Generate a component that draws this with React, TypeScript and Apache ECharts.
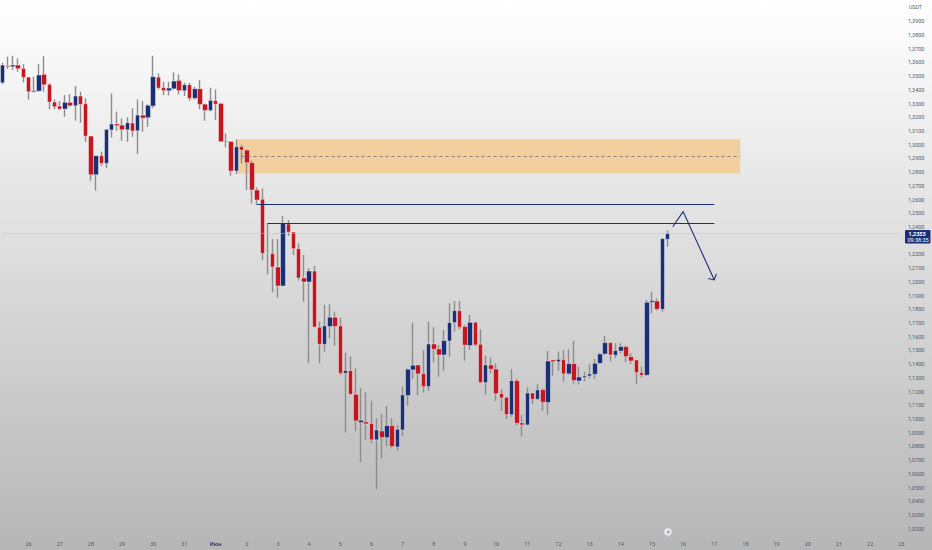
import React, { useEffect, useRef } from "react";
import * as echarts from "echarts";

// each row: open, close, low, high
const may26to27 = [
  [1.3452,1.3581,1.3442,1.3598],[1.3576,1.3569,1.3552,1.3642],[1.3569,1.3581,1.3544,1.3649],[1.3581,1.3554,1.3532,1.3629],
  [1.3556,1.3491,1.3454,1.3588],[1.3493,1.3386,1.3330,1.3493],[1.3386,1.3394,1.3381,1.3496],[1.3391,1.3508,1.3386,1.3588],
  [1.3513,1.3437,1.3386,1.3646],[1.3440,1.3311,1.3258,1.3447],[1.3311,1.3277,1.3258,1.3330],[1.3282,1.3260,1.3253,1.3318],
  [1.3260,1.3309,1.3204,1.3362],[1.3309,1.3284,1.3277,1.3369],[1.3284,1.3355,1.3175,1.3428],[1.3355,1.3294,1.3160,1.3386],
];
const may28to31 = [
  [1.3299,1.3063,1.3022,1.3338],[1.3063,1.2781,1.2738,1.3063],[1.2781,1.2920,1.2665,1.2920],[1.2920,1.2864,1.2845,1.2949],
  [1.2864,1.3112,1.2830,1.3112],[1.3107,1.3151,1.3053,1.3374],[1.3151,1.3139,1.3102,1.3241],[1.3143,1.3109,1.3029,1.3192],
  [1.3109,1.3160,1.3022,1.3199],[1.3158,1.3100,1.3058,1.3265],[1.3102,1.3216,1.2932,1.3330],[1.3216,1.3194,1.3095,1.3318],
  [1.3197,1.3287,1.3131,1.3296],[1.3282,1.3496,1.3267,1.3649],[1.3493,1.3413,1.3403,1.3520],[1.3416,1.3394,1.3362,1.3459],
  [1.3394,1.3413,1.3360,1.3459],[1.3408,1.3464,1.3403,1.3527],[1.3469,1.3394,1.3367,1.3513],[1.3394,1.3437,1.3355,1.3452],
  [1.3437,1.3338,1.3321,1.3452],[1.3338,1.3408,1.3330,1.3423],[1.3408,1.3294,1.3258,1.3471],[1.3296,1.3250,1.3175,1.3301],
];
const june1to3 = [
  [1.3250,1.3323,1.3243,1.3416],[1.3321,1.3296,1.3180,1.3403],[1.3301,1.3022,1.3022,1.3306],[1.3022,1.3027,1.2981,1.3083],
  [1.3024,1.2808,1.2774,1.3024],[1.2808,1.2985,1.2786,1.3039],[1.2986,1.2961,1.2864,1.3000],[1.2961,1.2869,1.2670,1.2968],
  [1.2869,1.2670,1.2572,1.2883],[1.2670,1.2597,1.2560,1.2689],[1.2602,1.2208,1.2159,1.2682],[1.2205,1.2208,1.2055,1.2427],
  [1.2205,1.2108,1.1924,1.2312],[1.2108,1.1970,1.1885,1.2312],[1.1970,1.2427,1.1965,1.2480],[1.2422,1.2363,1.2334,1.2451],
  [1.2363,1.2242,1.2196,1.2363],[1.2242,1.2028,1.2009,1.2281],[1.2028,1.1999,1.1856,1.2196],[1.1999,1.2079,1.1408,1.2099],
];
const june4to6 = [
  [1.2079,1.1671,1.1668,1.2116],[1.1669,1.1545,1.1406,1.1710],[1.1545,1.1679,1.1491,1.1832],[1.1674,1.1742,1.1589,1.1837],
  [1.1742,1.1674,1.1533,1.1778],[1.1679,1.1334,1.1321,1.1739],[1.1334,1.1353,1.0901,1.1484],[1.1353,1.1180,1.1176,1.1455],
  [1.1180,1.0986,1.0913,1.1370],[1.0974,1.0991,1.0685,1.1224],[1.0979,1.0964,1.0848,1.1195],[1.0967,1.0848,1.0823,1.1134],
  [1.0848,1.0920,1.0490,1.1005],[1.0913,1.0864,1.0714,1.1037],[1.0864,1.0952,1.0799,1.1095],[1.0952,1.0799,1.0787,1.1005],
  [1.0796,1.0925,1.0770,1.0957],[1.0920,1.1176,1.0877,1.1236],
];
const june7to10 = [
  [1.1171,1.1363,1.1095,1.1370],[1.1358,1.1392,1.1290,1.1703],[1.1394,1.1329,1.1173,1.1394],[1.1331,1.1236,1.1193,1.1504],
  [1.1236,1.1547,1.1205,1.1710],[1.1547,1.1508,1.1414,1.1669],[1.1511,1.1467,1.1309,1.1540],[1.1467,1.1572,1.1353,1.1649],
  [1.1569,1.1703,1.1455,1.1844],[1.1703,1.1790,1.1637,1.1861],[1.1790,1.1669,1.1654,1.1861],[1.1674,1.1538,1.1426,1.1686],
  [1.1535,1.1705,1.1504,1.1759],[1.1705,1.1540,1.1530,1.1710],[1.1545,1.1265,1.1261,1.1654],[1.1265,1.1394,1.1180,1.1462],
  [1.1394,1.1363,1.1333,1.1448],[1.1365,1.1185,1.1132,1.1406],[1.1185,1.1154,1.1059,1.1217],[1.1158,1.1032,1.1000,1.1158],
  [1.1032,1.1280,1.1017,1.1365],[1.1280,1.0969,1.0952,1.1292],
];
const june11to13 = [
  [1.0971,1.0957,1.0872,1.1030],[1.0957,1.1190,1.0952,1.1231],[1.1190,1.1144,1.1110,1.1190],[1.1144,1.1212,1.1139,1.1253],
  [1.1214,1.1122,1.1059,1.1222],[1.1120,1.1423,1.1032,1.1496],[1.1431,1.1418,1.1314,1.1431],[1.1418,1.1435,1.1350,1.1491],
  [1.1433,1.1329,1.1273,1.1504],[1.1329,1.1404,1.1321,1.1508],[1.1404,1.1280,1.1253,1.1569],[1.1277,1.1307,1.1253,1.1382],
  [1.1304,1.1314,1.1275,1.1343],[1.1314,1.1329,1.1297,1.1401],[1.1326,1.1406,1.1292,1.1438],[1.1406,1.1474,1.1401,1.1484],
  [1.1474,1.1557,1.1467,1.1606],[1.1557,1.1467,1.1421,1.1557],[1.1465,1.1499,1.1443,1.1552],
];
const june14to15 = [
  [1.1496,1.1528,1.1479,1.1552],[1.1528,1.1455,1.1414,1.1535],[1.1455,1.1423,1.1401,1.1479],[1.1431,1.1338,1.1256,1.1431],
  [1.1338,1.1319,1.1302,1.1382],[1.1319,1.1851,1.1314,1.1868],[1.1851,1.1863,1.1771,1.1929],[1.1861,1.1800,1.1790,1.1880],
  [1.1800,1.2315,1.1783,1.2318],[1.2310,1.2352,1.2257,1.2373],
];
const candles = [...may26to27, ...may28to31, ...june1to3, ...june4to6, ...june7to10, ...june11to13, ...june14to15];

const dayLabels = ["26","27","28","29","30","31","Июн","2","3","4","5","6","7","8","9","10","11","12","13","14","15","16","17","18","19","20","21","22","23"];
const candlesPerDay = 6;
const firstDayIndex = 5;
const slotCount = 174;

const zoneTop = 1.304;
const zoneBottom = 1.279;
const zoneMid = 1.2915;
const upperLevel = 1.2566;
const lowerLevel = 1.2427;
const arrowPath = [[129, 1.2402], [131, 1.2512], [137, 1.2014]];
const lastPrice = 1.2352;
const priceTagTexts = ["1,2353", "09:38:35"];

const NAVY = "#1b2f74";
const RED = "#c4161f";
const AXIS_TEXT = "#555a68";
const FONT = "Roboto, 'Liberation Sans', sans-serif";

export default function App() {
  const ref = useRef<HTMLDivElement>(null);
  useEffect(() => {
    const chart = echarts.init(ref.current!, undefined, { renderer: "svg" });
    const categories = Array.from({ length: slotCount }, (_, i) => `c${i}`);
    const wicks = candles.map((c) => [c[0], c[1], c[2], c[3]]);
    const bodies = candles.map((c) => [c[0], c[1], Math.min(c[0], c[1]), Math.max(c[0], c[1])]);
    const wickStyle = { color: "#8c8c8c", color0: "#8c8c8c", borderColor: "#8c8c8c", borderColor0: "#8c8c8c", borderWidth: 1.4 };
    chart.setOption({
      animation: false,
      backgroundColor: new echarts.graphic.LinearGradient(0, 0, 0, 1, [
        { offset: 0, color: "#ffffff" },
        { offset: 1, color: "#b6b6b6" },
      ]),
      grid: { left: -0.9, right: 28.1, top: 21.3, bottom: 21.3 },
      tooltip: { show: false },
      xAxis: {
        type: "category",
        data: categories,
        boundaryGap: true,
        axisLine: { show: false },
        axisTick: { show: false },
        splitLine: { show: false },
        axisLabel: {
          interval: (i: number) => i >= firstDayIndex && (i - firstDayIndex) % candlesPerDay === 0,
          margin: 12,
          fontSize: 5.5,
          fontFamily: FONT,
          color: AXIS_TEXT,
          formatter: (_: string, i: number) => {
            const d = dayLabels[(i - firstDayIndex) / candlesPerDay];
            if (d === undefined) return "";
            return d === "Июн" ? `{m|${d}}` : d;
          },
          rich: { m: { color: NAVY, fontSize: 5.5, fontWeight: 500, fontFamily: FONT } },
        },
      },
      yAxis: {
        type: "value",
        position: "right",
        min: 1.02,
        max: 1.39,
        interval: 0.01,
        axisLine: { show: false },
        axisTick: { show: false },
        splitLine: { show: false },
        axisLabel: {
          margin: 4,
          fontSize: 5.5,
          fontFamily: FONT,
          color: AXIS_TEXT,
          showMinLabel: true,
          showMaxLabel: true,
          formatter: (v: number) => (Math.abs(v - 1.23) < 1e-6 ? "" : v.toFixed(4).replace(".", ",")),
        },
      },
      series: [
        {
          type: "candlestick",
          name: "wicks",
          z: 3,
          barWidth: 1,
          data: wicks,
          itemStyle: wickStyle,
          markArea: {
            silent: true,
            itemStyle: { color: "#f2cf9d" },
            data: [[{ coord: [45, zoneTop] }, { coord: [142, zoneBottom] }]],
          },
        },
        {
          type: "candlestick",
          name: "bodies",
          z: 4,
          barWidth: 5,
          data: bodies,
          itemStyle: {
            color: NAVY,
            color0: RED,
            borderColor: "rgba(255,255,255,0.4)",
            borderColor0: "rgba(255,255,255,0.4)",
            borderWidth: 1,
          },
          markLine: {
            silent: true,
            symbol: "none",
            label: { show: false },
            data: [
              [
                { coord: [0, lastPrice], lineStyle: { color: "#c4c4c4", width: 1, type: "dotted" } },
                { coord: [slotCount - 1, lastPrice] },
              ],
              [
                { coord: [46, zoneMid], lineStyle: { color: "#6c6c78", width: 0.8, type: [3, 3] } },
                { coord: [142, zoneMid] },
              ],
              [
                { coord: [49, upperLevel], lineStyle: { color: NAVY, width: 1.2, type: "solid" } },
                { coord: [137, upperLevel] },
              ],
              [
                { coord: [51, lowerLevel], lineStyle: { color: NAVY, width: 1.2, type: "solid" } },
                { coord: [137, lowerLevel] },
              ],
            ],
          },
        },
        {
          type: "custom",
          name: "arrow",
          z: 6,
          silent: true,
          data: [[0]],
          renderItem: (_: any, api: any) => {
            const pts = arrowPath.map((p) => api.coord(p));
            const tip = pts[pts.length - 1];
            return {
              type: "group",
              children: [
                { type: "polyline", shape: { points: pts }, style: { stroke: NAVY, lineWidth: 1.1, fill: "none" } },
                {
                  type: "polyline",
                  shape: { points: [[tip[0] - 6, tip[1] - 1.5], tip, [tip[0] + 2, tip[1] - 6]] },
                  style: { stroke: NAVY, lineWidth: 1.1, fill: "none" },
                },
              ],
            };
          },
        },
      ],
      graphic: [
        { type: "rect", z: 20, shape: { x: 906.5, y: 3, width: 24, height: 10, r: 1.5 }, style: { fill: "#ffffff", stroke: "#f0f0f0", lineWidth: 0.5 } },
        { type: "text", z: 21, x: 909, y: 4.6, style: { text: "USDT", fontSize: 5.2, fontFamily: FONT, fill: AXIS_TEXT } },
        { type: "rect", z: 20, shape: { x: 905, y: 230, width: 25.5, height: 13.5, r: 1 }, style: { fill: NAVY } },
        { type: "text", z: 21, x: 908.5, y: 231, style: { text: priceTagTexts[0], fontSize: 5.5, fontWeight: "bold", fontFamily: FONT, fill: "#ffffff" } },
        { type: "text", z: 21, x: 907.5, y: 237, style: { text: priceTagTexts[1], fontSize: 5.5, fontFamily: FONT, fill: "#ffffff" } },
        { type: "circle", z: 20, shape: { cx: 668, cy: 532, r: 3.6 }, style: { fill: "#f6f6f8", stroke: "#d9d3df", lineWidth: 1.2 } },
        { type: "text", z: 21, x: 666.6, y: 529, style: { text: "#", fontSize: 5, fontFamily: FONT, fill: "#7b7b82" } },
      ],
    });
    return () => chart.dispose();
  }, []);
  return <div ref={ref} style={{ position: "absolute", left: 0, top: 0, width: 932, height: 550 }} />;
}
